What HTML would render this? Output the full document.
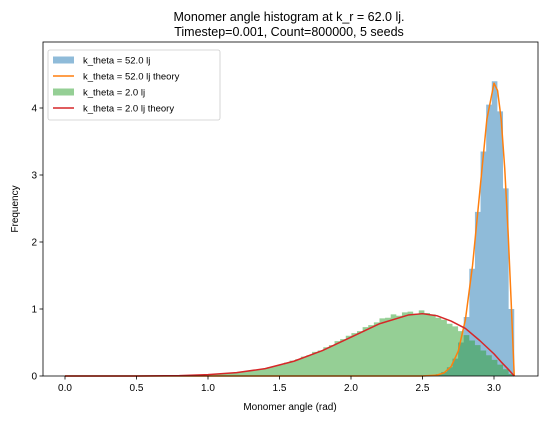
<!DOCTYPE html>
<html><head><meta charset="utf-8"><style>
body{margin:0;background:#fff;}
svg text{font-family:"Liberation Sans","DejaVu Sans",sans-serif;}
</style></head><body>
<svg id="chart" width="548" height="421" xmlns="http://www.w3.org/2000/svg">
<rect width="548" height="421" fill="#fff"/>
<text x="289" y="21" font-size="12.5" text-anchor="middle">Monomer angle histogram at k_r = 62.0 lj.</text>
<text x="289" y="36" font-size="12.5" text-anchor="middle">Timestep=0.001, Count=800000, 5 seeds</text>
<g id="plot"></g>
<text x="290" y="410" font-size="10" text-anchor="middle">Monomer angle (rad)</text>
<text x="18" y="209" font-size="10" text-anchor="middle" transform="rotate(-90 18 209)">Frequency</text>
</svg>
<script>
const binCount = 80;
const binMax = Math.PI;
const greenHist = [0,0,0,0,0,0,0,0,0,0,0,0,0,0,0,0.002,0.003,0.005,0.007,0.01,
0.01,0.012,0.015,0.018,0.02,0.022,0.026,0.031,0.037,0.044,
0.05,0.06,0.07,0.085,0.095,0.11,0.13,0.15,0.17,0.2,
0.23,0.25,0.29,0.31,0.36,0.38,0.43,0.46,0.52,0.55,
0.6,0.64,0.67,0.73,0.76,0.8,0.86,0.87,0.92,0.9,
0.95,0.96,0.93,0.98,0.94,0.92,0.87,0.84,0.78,0.74,
0.67,0.61,0.53,0.46,0.38,0.31,0.24,0.17,0.1,0.03];
const blueHist = [0,0,0,0,0,0,0,0,0,0,0,0,0,0,0,0,0,0,0,0,
0,0,0,0,0,0,0,0,0,0,0,0,0,0,0,0,0,0,0,0,
0,0,0,0,0,0,0,0,0,0,0,0,0,0,0,0,0,0,0,0,
0,0,0,0,0,0.01,0.03,0.06,0.13,0.26,
0.5,0.88,1.6,2.45,3.35,4.05,4.4,3.95,2.8,1.0];
const redX = [0,0.5,0.8,1.0,1.2,1.4,1.6,1.8,2.0,2.2,2.4,2.5,2.6,2.7,2.8,2.9,3.0,3.05,3.1,3.1416];
const redY = [0,0,0.005,0.02,0.05,0.11,0.22,0.38,0.58,0.78,0.91,0.93,0.90,0.82,0.71,0.53,0.33,0.21,0.10,0];
const orangeX = [0,2.5,2.6,2.65,2.7,2.75,2.8,2.85,2.9,2.95,3.0,3.025,3.05,3.075,3.1,3.12,3.1416];
const orangeY = [0,0,0.013,0.046,0.14,0.37,0.84,1.65,2.74,3.83,4.37,4.26,3.84,3.10,2.08,1.11,0];
const xTicks = [0,0.5,1.0,1.5,2.0,2.5,3.0];
const xTickLabels = ["0.0","0.5","1.0","1.5","2.0","2.5","3.0"];
const yTicks = [0,1,2,3,4];
const yTickLabels = ["0","1","2","3","4"];

const L=43,R=538,T=42,B=376;
const sx = v => 65 + v*143;
const sy = v => B - v*67;
const NS="http://www.w3.org/2000/svg";
const g=document.getElementById('plot');
function mk(tag,attrs,parent){const e=document.createElementNS(NS,tag);for(const k in attrs)e.setAttribute(k,attrs[k]);(parent||g).appendChild(e);return e;}

const w=binMax/binCount;
function hist(vals,color,name){
  const grp=mk('g',{});
  
  
  let d='M'+sx(0)+','+B;
  vals.forEach((v,i)=>{ d+=' L'+sx(i*w)+','+sy(v)+' L'+sx((i+1)*w)+','+sy(v); });
  d+=' L'+sx(binMax)+','+B+' Z';
  const p=mk('path',{d:d,fill:color,'fill-opacity':0.5,stroke:'none'},grp);
  
  
}
hist(blueHist,'#1f77b4','blue-histogram');
hist(greenHist,'#2ca02c','green-histogram');
function line(xs,ys,color,name){
  const p=mk('polyline',{points:xs.map((x,i)=>sx(x)+','+sy(ys[i])).join(' '),fill:'none',stroke:color,'stroke-width':1.5,'stroke-linejoin':'round'});
  
  
}
line(orangeX,orangeY,'#ff7f0e','theory-line-k52');
line(redX,redY,'#d62728','theory-line-k2');

const frame=mk('rect',{x:L,y:T,width:R-L,height:B-T,fill:'none',stroke:'#000','stroke-width':0.8});


xTicks.forEach((v,i)=>{
  const t=mk('line',{x1:sx(v),x2:sx(v),y1:B,y2:B+3.5,stroke:'#000','stroke-width':0.8});
  
  
  const tx=mk('text',{x:sx(v),y:B+15,'font-size':10,'text-anchor':'middle'});
  tx.textContent=xTickLabels[i];
  
  
});
yTicks.forEach((v,i)=>{
  const t=mk('line',{x1:L-3.5,x2:L,y1:sy(v),y2:sy(v),stroke:'#000','stroke-width':0.8});
  
  
  const tx=mk('text',{x:L-6,y:sy(v)+3.5,'font-size':10,'text-anchor':'end'});
  tx.textContent=yTickLabels[i];
  
  
});

const lg=mk('g',{});


mk('rect',{x:48,y:50,width:172,height:70,rx:2,fill:'#fff','fill-opacity':0.8,stroke:'#ccc','stroke-width':0.8},lg);
const entries=[['k_theta = 52.0 lj','patch','#1f77b4'],['k_theta = 52.0 lj theory','line','#ff7f0e'],['k_theta = 2.0 lj','patch','#2ca02c'],['k_theta = 2.0 lj theory','line','#d62728']];
entries.forEach((e,i)=>{
  const y=60+i*16;
  const eg=mk('g',{},lg);
  
  
  if(e[1]==='patch') mk('rect',{x:53,y:y-3.5,width:21,height:7,fill:e[2],'fill-opacity':0.5},eg);
  else mk('line',{x1:53,x2:74,y1:y,y2:y,stroke:e[2],'stroke-width':1.5},eg);
  const t=mk('text',{x:83,y:y+3.5,'font-size':9.5},eg);
  t.textContent=e[0];
});
</script>
</body></html>
